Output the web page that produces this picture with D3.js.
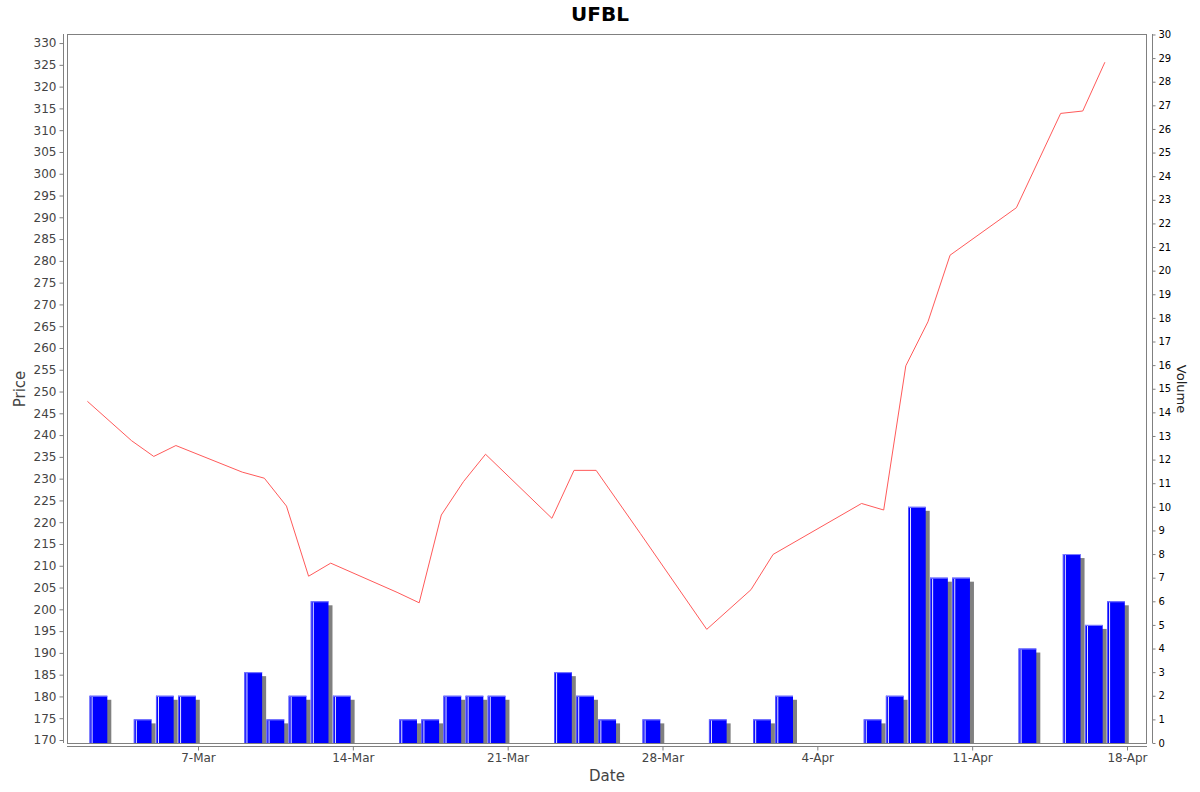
<!DOCTYPE html>
<html>
<head>
<meta charset="utf-8">
<script src="https://cdn.jsdelivr.net/npm/d3@7"></script>
<style>
html,body{margin:0;padding:0;background:#fff;}
svg{display:block;font-family:"DejaVu Sans",sans-serif;}
</style>
</head>
<body>
<svg id="chart" width="1200" height="792"></svg>
<script>
// ---- data ----
const title = "UFBL";
const tradeDates = ["2015-03-02","2015-03-04","2015-03-05","2015-03-06","2015-03-09","2015-03-10","2015-03-11","2015-03-12","2015-03-13","2015-03-16","2015-03-17","2015-03-18","2015-03-19","2015-03-20","2015-03-23","2015-03-24","2015-03-25","2015-03-27","2015-03-30","2015-04-01","2015-04-02","2015-04-06","2015-04-07","2015-04-08","2015-04-09","2015-04-10","2015-04-13","2015-04-15","2015-04-16","2015-04-17"];
const prices = [247.75,238.7,235.1,237.6,231.5,230.1,223.7,207.6,210.6,203.9,201.5,221.65,229.3,235.6,220.9,231.9,231.9,217.4,195.4,204.5,212.6,224.3,222.8,255.9,266.0,281.3,292.2,313.85,314.4,325.6];
const volumes = [2,1,2,2,3,1,2,6,2,1,1,2,2,2,3,2,1,1,1,1,2,1,2,10,7,7,4,8,5,6];
const dateTicks = ["2015-03-07","2015-03-14","2015-03-21","2015-03-28","2015-04-04","2015-04-11","2015-04-18"];
const priceTicks = d3.range(170, 331, 5);
const volumeTicks = d3.range(0, 31, 1);
const xDomain = ["2015-03-01T01:52:00Z","2015-04-18T21:42:00Z"];
const priceDomain = [169.31, 332.08];
const volumeDomain = [0, 30.02];

// ---- layout ----
const L = 67, R = 1147, T = 34, B = 743;
const svg = d3.select("#chart");
const parse = s => new Date(s.length === 10 ? s + "T00:00:00Z" : s);

const x = d3.scaleUtc().domain(xDomain.map(parse)).range([L, R]);
const yP = d3.scaleLinear().domain(priceDomain).range([B, T]);
const yV = d3.scaleLinear().domain(volumeDomain).range([B, T]);

const rows = tradeDates.map((d, i) => ({date: parse(d), price: prices[i], vol: volumes[i]}));

// title
svg.append("text").attr("x", 600).attr("y", 21).attr("text-anchor", "middle")
  .attr("font-size", 20).attr("font-weight", "bold").attr("fill", "#000").text(title);

// plot border
svg.append("rect").attr("x", L + 0.5).attr("y", T + 0.5).attr("width", R - L - 1).attr("height", B - T)
  .attr("fill", "#fff").attr("stroke", "#808080").attr("stroke-width", 1);

// clip
svg.append("clipPath").attr("id", "clip").append("rect")
  .attr("x", L + 1).attr("y", T + 1).attr("width", R - L - 2).attr("height", B - T - 1);
const plot = svg.append("g").attr("clip-path", "url(#clip)");

// bars
const bars = plot.append("g");
rows.filter(r => r.vol > 0).forEach(r => {
  const x0 = x(r.date), x1 = x(d3.utcDay.offset(r.date, 1));
  const m = (x1 - x0) * 0.1;
  const bx = x0 + m, bw = (x1 - x0) - 2 * m;
  const top = yV(r.vol), bot = yV(0);
  bars.append("rect").attr("x", bx + 4).attr("y", top + 4).attr("width", bw).attr("height", Math.max(0, bot - top))
    .attr("fill", "#808080");
  bars.append("rect").attr("x", bx).attr("y", top).attr("width", bw).attr("height", bot - top)
    .attr("fill", "#0000ff");
  bars.append("line").attr("x1", bx + 0.5).attr("x2", bx + 0.5).attr("y1", top).attr("y2", bot)
    .attr("stroke", "#5a5aff").attr("stroke-width", 1);
  bars.append("line").attr("x1", bx + 2.5).attr("x2", bx + 2.5).attr("y1", top + 1).attr("y2", bot)
    .attr("stroke", "#e8e8ff").attr("stroke-width", 1);
  bars.append("line").attr("x1", bx).attr("x2", bx + bw).attr("y1", top + 0.5).attr("y2", top + 0.5)
    .attr("stroke", "#8080ff").attr("stroke-width", 1);
});

// price line
plot.append("path").datum(rows)
  .attr("fill", "none").attr("stroke", "#ff5a5a").attr("stroke-width", 1)
  .attr("d", d3.line().x(d => x(d.date)).y(d => yP(d.price)));

// axes
function styleAxis(g, labelColor, fs) {
  g.select(".domain").attr("stroke", "#808080");
  g.selectAll(".tick line").attr("stroke", "#808080");
  g.selectAll(".tick text").attr("fill", labelColor).attr("font-size", fs)
    .attr("font-family", "DejaVu Sans, sans-serif");
}

const gl = svg.append("g").attr("transform", "translate(63.5,0)")
  .call(d3.axisLeft(yP).tickValues(priceTicks).tickSize(4).tickSizeOuter(0).tickPadding(3));
gl.select(".domain").attr("d", `M0,${T}V${B}`);
styleAxis(gl, "#444", 12);

const gr = svg.append("g").attr("transform", "translate(1152.5,0)")
  .call(d3.axisRight(yV).tickValues(volumeTicks).tickSize(3).tickSizeOuter(0).tickPadding(3));
gr.select(".domain").attr("d", `M0,${T}V${B}`);
styleAxis(gr, "#000", 10);

const gb = svg.append("g").attr("transform", "translate(0,746.5)")
  .call(d3.axisBottom(x).tickValues(dateTicks.map(parse)).tickFormat(d3.utcFormat("%-d-%b"))
    .tickSize(4).tickSizeOuter(0).tickPadding(3));
gb.select(".domain").attr("d", `M${L},0H${R}`);
styleAxis(gb, "#444", 12);

// axis titles
svg.append("text").attr("transform", "translate(25,389) rotate(-90)").attr("text-anchor", "middle")
  .attr("font-size", 15).attr("fill", "#444").text("Price");
svg.append("text").attr("transform", "translate(1177,389) rotate(90)").attr("text-anchor", "middle")
  .attr("font-size", 13).attr("fill", "#222").text("Volume");
svg.append("text").attr("x", 607).attr("y", 781).attr("text-anchor", "middle")
  .attr("font-size", 15).attr("fill", "#444").text("Date");
</script>
</body>
</html>
